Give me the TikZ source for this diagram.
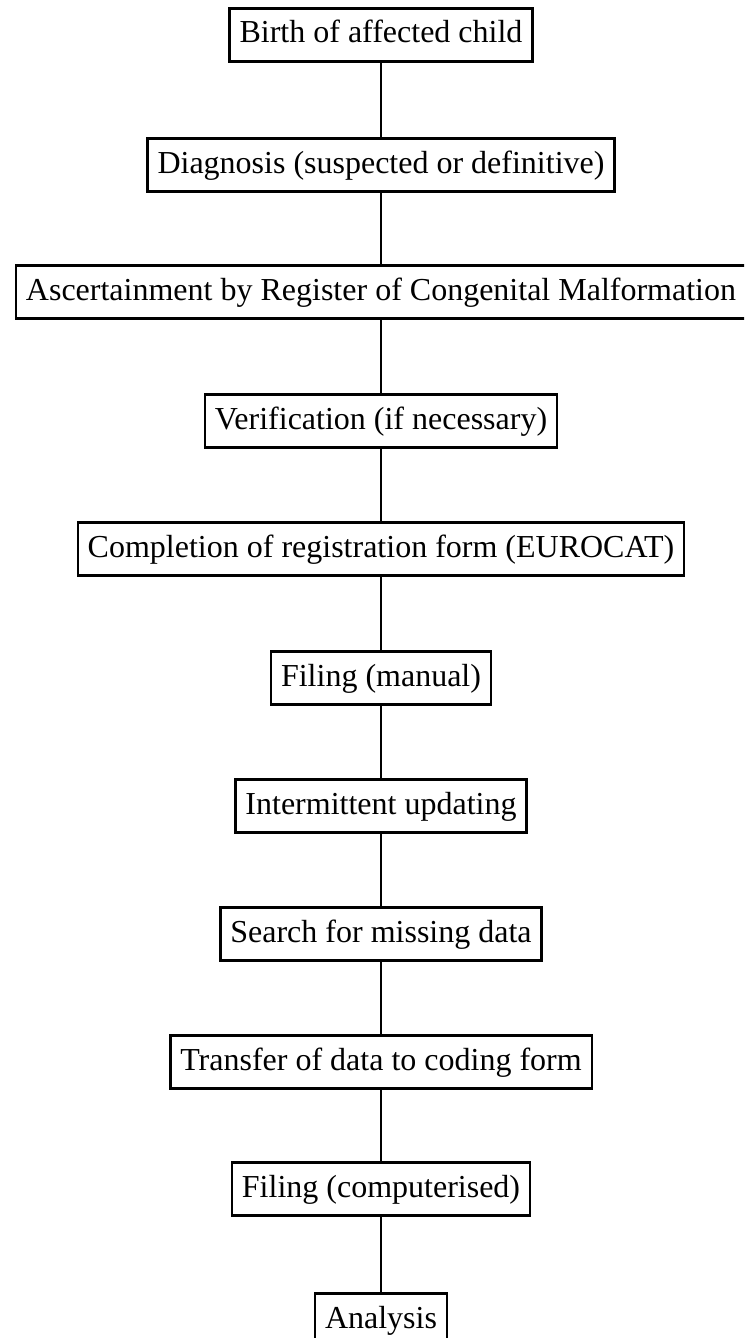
\documentclass[tikz,border=0pt]{standalone}
\usepackage{fontspec}
\setmainfont{Liberation Serif}
\usetikzlibrary{arrows.meta}

\tikzset{
    stage/.style={draw, line width=1.2pt, inner xsep=5pt, inner ysep=5.3pt,
        text height=12pt, text depth=4pt, font=\fontsize{16}{19}\selectfont},
    link/.style={line width=1pt}
}

\begin{document}
\begin{tikzpicture}[x=0.5pt, y=-0.5pt]
    \useasboundingbox (0,0) rectangle (744,1338);
    \clip (0,0) rectangle (744,1338);

    \node[stage] (birth) at (381,35) {Birth of affected child};
    \node[stage] (diag) at (381,165) {Diagnosis (suspected or definitive)};
    \node[stage] (ascert) at (381,292) {Ascertainment by Register of Congenital Malformation};
    \node[stage] (verif) at (381,421) {Verification (if necessary)};
    \node[stage] (compl) at (381,549) {Completion of registration form (EUROCAT)};
    \node[stage] (filman) at (381,678) {Filing (manual)};
    \node[stage] (update) at (381,806) {Intermittent updating};
    \node[stage] (search) at (381,934) {Search for missing data};
    \node[stage] (transf) at (381,1062) {Transfer of data to coding form};
    \node[stage] (filcomp) at (381,1189) {Filing (computerised)};
    \node[stage] (analys) at (381,1320) {Analysis};

    \draw[link] (birth) -- (diag);
    \draw[link] (diag) -- (ascert);
    \draw[link] (ascert) -- (verif);
    \draw[link] (verif) -- (compl);
    \draw[link] (compl) -- (filman);
    \draw[link] (filman) -- (update);
    \draw[link] (update) -- (search);
    \draw[link] (search) -- (transf);
    \draw[link] (transf) -- (filcomp);
    \draw[link] (filcomp) -- (analys);
\end{tikzpicture}
\end{document}
